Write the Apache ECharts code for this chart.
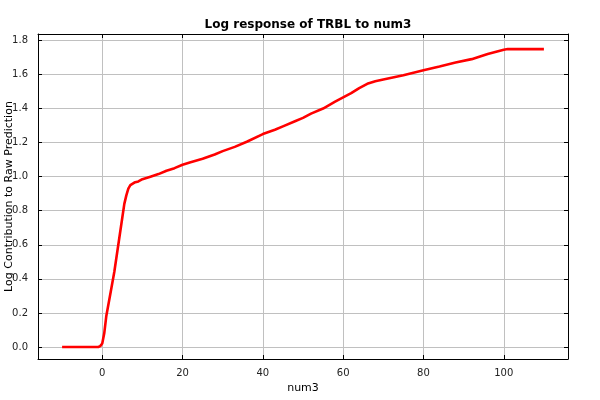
<!DOCTYPE html>
<html>
<head>
<meta charset="utf-8">
<script src="https://cdn.jsdelivr.net/npm/echarts@6/dist/echarts.min.js"></script>
<style>html,body{margin:0;padding:0;background:#fff}#c{width:600px;height:400px}</style>
</head>
<body>
<div id="c"></div>
<script>
var xValues = [-10, -1, -0.5, 0, 0.5, 1, 2, 3, 4, 5, 5.5, 6, 6.5, 7, 8, 9, 10, 12, 14, 16, 18, 20, 22, 25, 28, 30, 33, 36, 40, 43, 45, 48, 50, 52, 55, 58, 60, 62, 64, 66, 68, 70, 75, 80, 84, 88, 92, 96, 100, 101, 110];
var yValues = [0, 0, 0.005, 0.02, 0.08, 0.18, 0.31, 0.44, 0.60, 0.76, 0.84, 0.89, 0.93, 0.95, 0.965, 0.972, 0.985, 1.0, 1.015, 1.035, 1.05, 1.07, 1.085, 1.105, 1.13, 1.15, 1.175, 1.205, 1.25, 1.275, 1.295, 1.325, 1.345, 1.37, 1.40, 1.44, 1.465, 1.49, 1.52, 1.545, 1.56, 1.57, 1.595, 1.625, 1.647, 1.67, 1.69, 1.72, 1.745, 1.749, 1.749];
var xTicks = [0, 20, 40, 60, 80, 100];
var yTicks = [0, 0.2, 0.4, 0.6, 0.8, 1.0, 1.2, 1.4, 1.6, 1.8];

var FONT = 'DejaVu Sans';
var data = xValues.map(function (x, i) { return [x, yValues[i]]; });

function xAxisCfg(pos, showLabel) {
  return {
    type: 'value', position: pos, min: -16, max: 116,
    name: showLabel ? 'num3' : '', nameLocation: 'middle', nameGap: 22,
    nameTextStyle: {fontFamily: FONT, fontSize: 11, color: '#000'},
    axisLine: {show: true, onZero: false, lineStyle: {color: '#000', width: 1}},
    axisTick: {show: true, inside: true, length: 4, customValues: xTicks, lineStyle: {color: '#000'}},
    axisLabel: {show: showLabel, customValues: xTicks, margin: 9, fontFamily: FONT, fontSize: 10, color: '#222'},
    splitLine: {show: showLabel, lineStyle: {color: '#c0c0c0', width: 1}}
  };
}
function yAxisCfg(pos, showLabel) {
  return {
    type: 'value', position: pos, min: -0.0706, max: 1.8376,
    name: showLabel ? 'Log Contribution to Raw Prediction' : '', nameLocation: 'middle', nameGap: 23,
    nameMoveOverlap: false,
    nameTextStyle: {fontFamily: FONT, fontSize: 11, color: '#000'},
    axisLine: {show: true, onZero: false, lineStyle: {color: '#000', width: 1}},
    axisTick: {show: true, inside: true, length: 4, customValues: yTicks, lineStyle: {color: '#000'}},
    axisLabel: {show: showLabel, customValues: yTicks, margin: 10, fontFamily: FONT, fontSize: 10, color: '#222',
      formatter: function (v) { return v.toFixed(1); }},
    splitLine: {show: showLabel, lineStyle: {color: '#c0c0c0', width: 1}}
  };
}

var chart = echarts.init(document.getElementById('c'));
chart.setOption({
  animation: false,
  backgroundColor: '#fff',
  title: {text: 'Log response of TRBL to num3', left: 303, textAlign: 'center', top: 14,
    textStyle: {fontFamily: FONT, fontSize: 12, fontWeight: 'bold', color: '#000'}},
  grid: {left: 38, right: 32, top: 34, bottom: 41, containLabel: false, outerBoundsMode: 'none'},
  xAxis: [xAxisCfg('bottom', true), xAxisCfg('top', false)],
  yAxis: [yAxisCfg('left', true), yAxisCfg('right', false)],
  series: [{
    type: 'line', data: data, xAxisIndex: 0, yAxisIndex: 0,
    showSymbol: false, smooth: false,
    lineStyle: {color: '#ff0000', width: 2.6}
  }]
});
</script>
</body>
</html>
